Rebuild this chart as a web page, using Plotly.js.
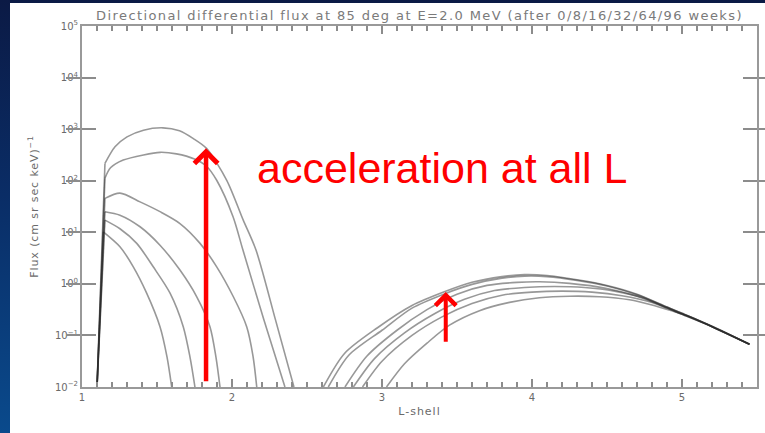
<!DOCTYPE html>
<html>
<head>
<meta charset="utf-8">
<script src="https://cdn.plot.ly/plotly-3.0.1.min.js"></script>
<style>
  html, body { margin: 0; padding: 0; width: 765px; height: 433px; overflow: hidden; }
  body { background: linear-gradient(180deg, #0b1a45 0%, #0a2d66 45%, #0a4a8c 100%); position: relative; }
  #chart { position: absolute; left: 10px; top: 3px; width: 755px; height: 430px; }
  #chart .gtitle { letter-spacing: 1.4px; }
  #chart .ytitle { letter-spacing: 0.9px; }
  #chart .xtitle { letter-spacing: 1px; }
</style>
</head>
<body>
<div id="chart"></div>
<script>
// ---- Data ----
const weeks = [0, 8, 16, 32, 64, 96];

// Inner belt (L-shell, flux) per week
const innerL_w0  = [1.10, 1.142, 1.253, 1.342, 1.431, 1.52, 1.567, 1.598];
const innerF_w0  = [0.01, 10.2, 5.25, 2.14, 0.661, 0.148, 0.038, 0.01];
const innerL_w8  = [1.10, 1.153, 1.253, 1.365, 1.475, 1.587, 1.675, 1.72, 1.753];
const innerF_w8  = [0.01, 17.2, 11.7, 6.1, 2.14, 0.661, 0.148, 0.038, 0.01];
const innerL_w16 = [1.10, 1.153, 1.253, 1.387, 1.52, 1.653, 1.765, 1.853, 1.893, 1.92];
const innerF_w16 = [0.01, 25.1, 21.5, 12.8, 5.62, 1.85, 0.562, 0.148, 0.038, 0.01];
const innerL_w32 = [1.10, 1.153, 1.253, 1.387, 1.52, 1.653, 1.787, 1.898, 2.009, 2.098, 2.14, 2.165];
const innerF_w32 = [0.01, 45.4, 57.5, 38.9, 25.1, 14.8, 6.1, 2.14, 0.562, 0.148, 0.0398, 0.01];
const innerL_w64 = [1.10, 1.153, 1.19, 1.275, 1.41, 1.52, 1.63, 1.75, 1.83, 1.898, 2.007, 2.073, 2.213, 2.353];
const innerF_w64 = [0.01, 112, 178, 251, 316, 355, 331, 263, 191, 102, 20, 4.52, 0.20, 0.01];
const innerL_w96 = [1.10, 1.153, 1.22, 1.30, 1.41, 1.54, 1.65, 1.74, 1.83, 1.965, 2.075, 2.16, 2.29, 2.413];
const innerF_w96 = [0.01, 216, 454, 708, 955, 1060, 927, 661, 423, 102, 17.2, 4.52, 0.20, 0.01];

// Outer belt (L-shell, flux) per week
const outerL_w0  = [3.03, 3.15, 3.3, 3.45, 3.65, 3.85, 4.05, 4.25, 4.45, 4.65, 4.8, 4.95, 5.05, 5.2, 5.45];
const outerF_w0  = [0.01, 0.0282, 0.0708, 0.158, 0.302, 0.437, 0.537, 0.575, 0.562, 0.490, 0.389, 0.288, 0.234, 0.148, 0.0676];
const outerL_w8  = [2.87, 3.0, 3.2, 3.4, 3.6, 3.8, 4.0, 4.2, 4.4, 4.6, 4.8, 4.9, 5.0, 5.2, 5.45];
const outerF_w8  = [0.01, 0.0316, 0.1, 0.229, 0.417, 0.603, 0.692, 0.724, 0.692, 0.589, 0.437, 0.339, 0.257, 0.148, 0.0676];
const outerL_w16 = [2.809, 2.95, 3.15, 3.35, 3.55, 3.75, 3.95, 4.15, 4.35, 4.55, 4.75, 4.9, 5.0, 5.2, 5.45];
const outerF_w16 = [0.01, 0.0355, 0.112, 0.263, 0.501, 0.741, 0.851, 0.891, 0.851, 0.724, 0.525, 0.339, 0.257, 0.148, 0.0676];
const outerL_w32 = [2.753, 2.9, 3.1, 3.3, 3.5, 3.7, 3.9, 4.05, 4.25, 4.5, 4.7, 4.9, 5.0, 5.2, 5.45];
const outerF_w32 = [0.01, 0.0398, 0.126, 0.316, 0.631, 0.933, 1.07, 1.10, 1.02, 0.813, 0.575, 0.347, 0.263, 0.148, 0.0676];
const outerL_w64 = [2.642, 2.78, 3.0, 3.2, 3.42, 3.6, 3.8, 3.95, 4.1, 4.3, 4.5, 4.7, 4.9, 5.0, 5.2, 5.45];
const outerF_w64 = [0.01, 0.0417, 0.126, 0.339, 0.646, 0.977, 1.29, 1.41, 1.38, 1.17, 0.912, 0.617, 0.355, 0.269, 0.151, 0.0676];
const outerL_w96 = [2.609, 2.75, 2.97, 3.2, 3.42, 3.6, 3.8, 3.95, 4.1, 4.3, 4.5, 4.7, 4.9, 5.0, 5.2, 5.45];
const outerF_w96 = [0.01, 0.0447, 0.141, 0.380, 0.708, 1.07, 1.38, 1.51, 1.45, 1.20, 0.933, 0.631, 0.355, 0.269, 0.151, 0.0676];

const xTickVals = [1, 2, 3, 4, 5];
const xTickText = ['1', '2', '3', '4', '5'];
const yTickVals = [0.01, 0.1, 1, 10, 100, 1000, 10000, 100000];
const yTickText = ['10<sup>−2</sup>', '10<sup>−1</sup>', '10<sup>0</sup>', '10<sup>1</sup>',
                   '10<sup>2</sup>', '10<sup>3</sup>', '10<sup>4</sup>', '10<sup>5</sup>'];

// ---- Build traces ----
const innerL = [innerL_w0, innerL_w8, innerL_w16, innerL_w32, innerL_w64, innerL_w96];
const innerF = [innerF_w0, innerF_w8, innerF_w16, innerF_w32, innerF_w64, innerF_w96];
const outerL = [outerL_w0, outerL_w8, outerL_w16, outerL_w32, outerL_w64, outerL_w96];
const outerF = [outerF_w0, outerF_w8, outerF_w16, outerF_w32, outerF_w64, outerF_w96];

const lineColor = 'rgba(40,40,40,0.48)';
const straight = { color: lineColor, width: 1.6, shape: 'linear' };
const smooth = { color: lineColor, width: 1.6, shape: 'spline', smoothing: 0.8 };
const traces = [];
weeks.forEach((w, i) => {
  // steep injection edge of the inner belt (sharp corner at its top)
  traces.push({ x: innerL[i].slice(0, 2), y: innerF[i].slice(0, 2), type: 'scatter', mode: 'lines',
                name: w + ' weeks', line: straight, showlegend: false, hoverinfo: 'skip' });
  traces.push({ x: innerL[i].slice(1), y: innerF[i].slice(1), type: 'scatter', mode: 'lines',
                name: w + ' weeks', line: smooth, showlegend: false, hoverinfo: 'skip' });
  // outer belt; the last one is drawn through the overlaid major-tick x axis (same range)
  traces.push({ x: outerL[i], y: outerF[i], type: 'scatter', mode: 'lines',
                xaxis: i === weeks.length - 1 ? 'x2' : 'x',
                name: w + ' weeks', line: smooth, showlegend: false, hoverinfo: 'skip' });
});

// minor tick positions every 0.1 in L (labels only on whole numbers)
const minorVals = [], minorText = [];
for (let k = 0; k <= 45; k++) {
  const v = +(1 + k / 10).toFixed(1);
  minorVals.push(v);
  minorText.push(xTickVals.includes(v) ? xTickText[xTickVals.indexOf(v)] : '');
}

const axisGray = '#999999';
const tickGray = '#8c8c8c';
const textGray = '#6a6a6a';
const fontFam = 'DejaVu Sans, sans-serif';

const layout = {
  width: 755, height: 430,
  margin: { l: 72, r: 8, t: 23, b: 46 },
  paper_bgcolor: '#ffffff',
  plot_bgcolor: '#ffffff',
  showlegend: false,
  title: {
    text: 'Directional differential flux at 85 deg at E=2.0 MeV (after 0/8/16/32/64/96 weeks)',
    font: { family: fontFam, size: 13, color: '#7a7a7a' },
    x: 0.5, xref: 'paper', xanchor: 'center',
    y: 1 - 12 / 430, yref: 'container', yanchor: 'middle'
  },
  xaxis: {
    range: [1, 5.5],
    showline: true, linecolor: axisGray, linewidth: 2, mirror: 'allticks',
    ticks: 'inside', ticklen: 5, tickwidth: 2, tickcolor: tickGray,
    tickmode: 'array', tickvals: minorVals, ticktext: minorText,
    showgrid: false, zeroline: false,
    tickfont: { family: fontFam, size: 10, color: textGray },
    title: { text: 'L-shell', font: { family: fontFam, size: 11, color: textGray }, standoff: 5 }
  },
  xaxis2: {
    range: [1, 5.5], overlaying: 'x', anchor: 'y', side: 'bottom',
    showline: false, mirror: 'ticks',
    ticks: 'inside', ticklen: 8, tickwidth: 2, tickcolor: tickGray,
    tickmode: 'array', tickvals: xTickVals,
    showticklabels: false, showgrid: false, zeroline: false
  },
  yaxis: {
    type: 'log', range: [-2, 5],
    showline: true, linecolor: axisGray, linewidth: 2, mirror: 'allticks',
    ticks: 'inside', ticklen: 14, tickwidth: 2, tickcolor: tickGray,
    tickvals: yTickVals, ticktext: yTickText,
    showgrid: false, zeroline: false,
    tickfont: { family: fontFam, size: 10, color: textGray },
    title: { text: 'Flux (cm sr sec keV)<sup>−1</sup>', font: { family: fontFam, size: 11, color: textGray }, standoff: 14 }
  },
  annotations: [
    { text: 'acceleration at all L', xref: 'x', yref: 'y', x: 2.155, y: 2.25,
      xanchor: 'left', yanchor: 'middle', showarrow: false,
      font: { family: 'Liberation Sans, Arial, sans-serif', size: 43, color: '#ff0000' } },
    { text: '', xref: 'x', yref: 'y', x: 1.827, y: 2.63, axref: 'x', ayref: 'y', ax: 1.827, ay: -1.92,
      showarrow: true, arrowhead: 4, arrowsize: 1, arrowwidth: 4.5, arrowcolor: '#ff0000', standoff: 0 },
    { text: '', xref: 'x', yref: 'y', x: 3.425, y: -0.16, axref: 'x', ayref: 'y', ax: 3.425, ay: -1.15,
      showarrow: true, arrowhead: 4, arrowsize: 1, arrowwidth: 4, arrowcolor: '#ff0000', standoff: 0 }
  ]
};

Plotly.newPlot('chart', traces, layout, { staticPlot: true, displayModeBar: false });
</script>
</body>
</html>
